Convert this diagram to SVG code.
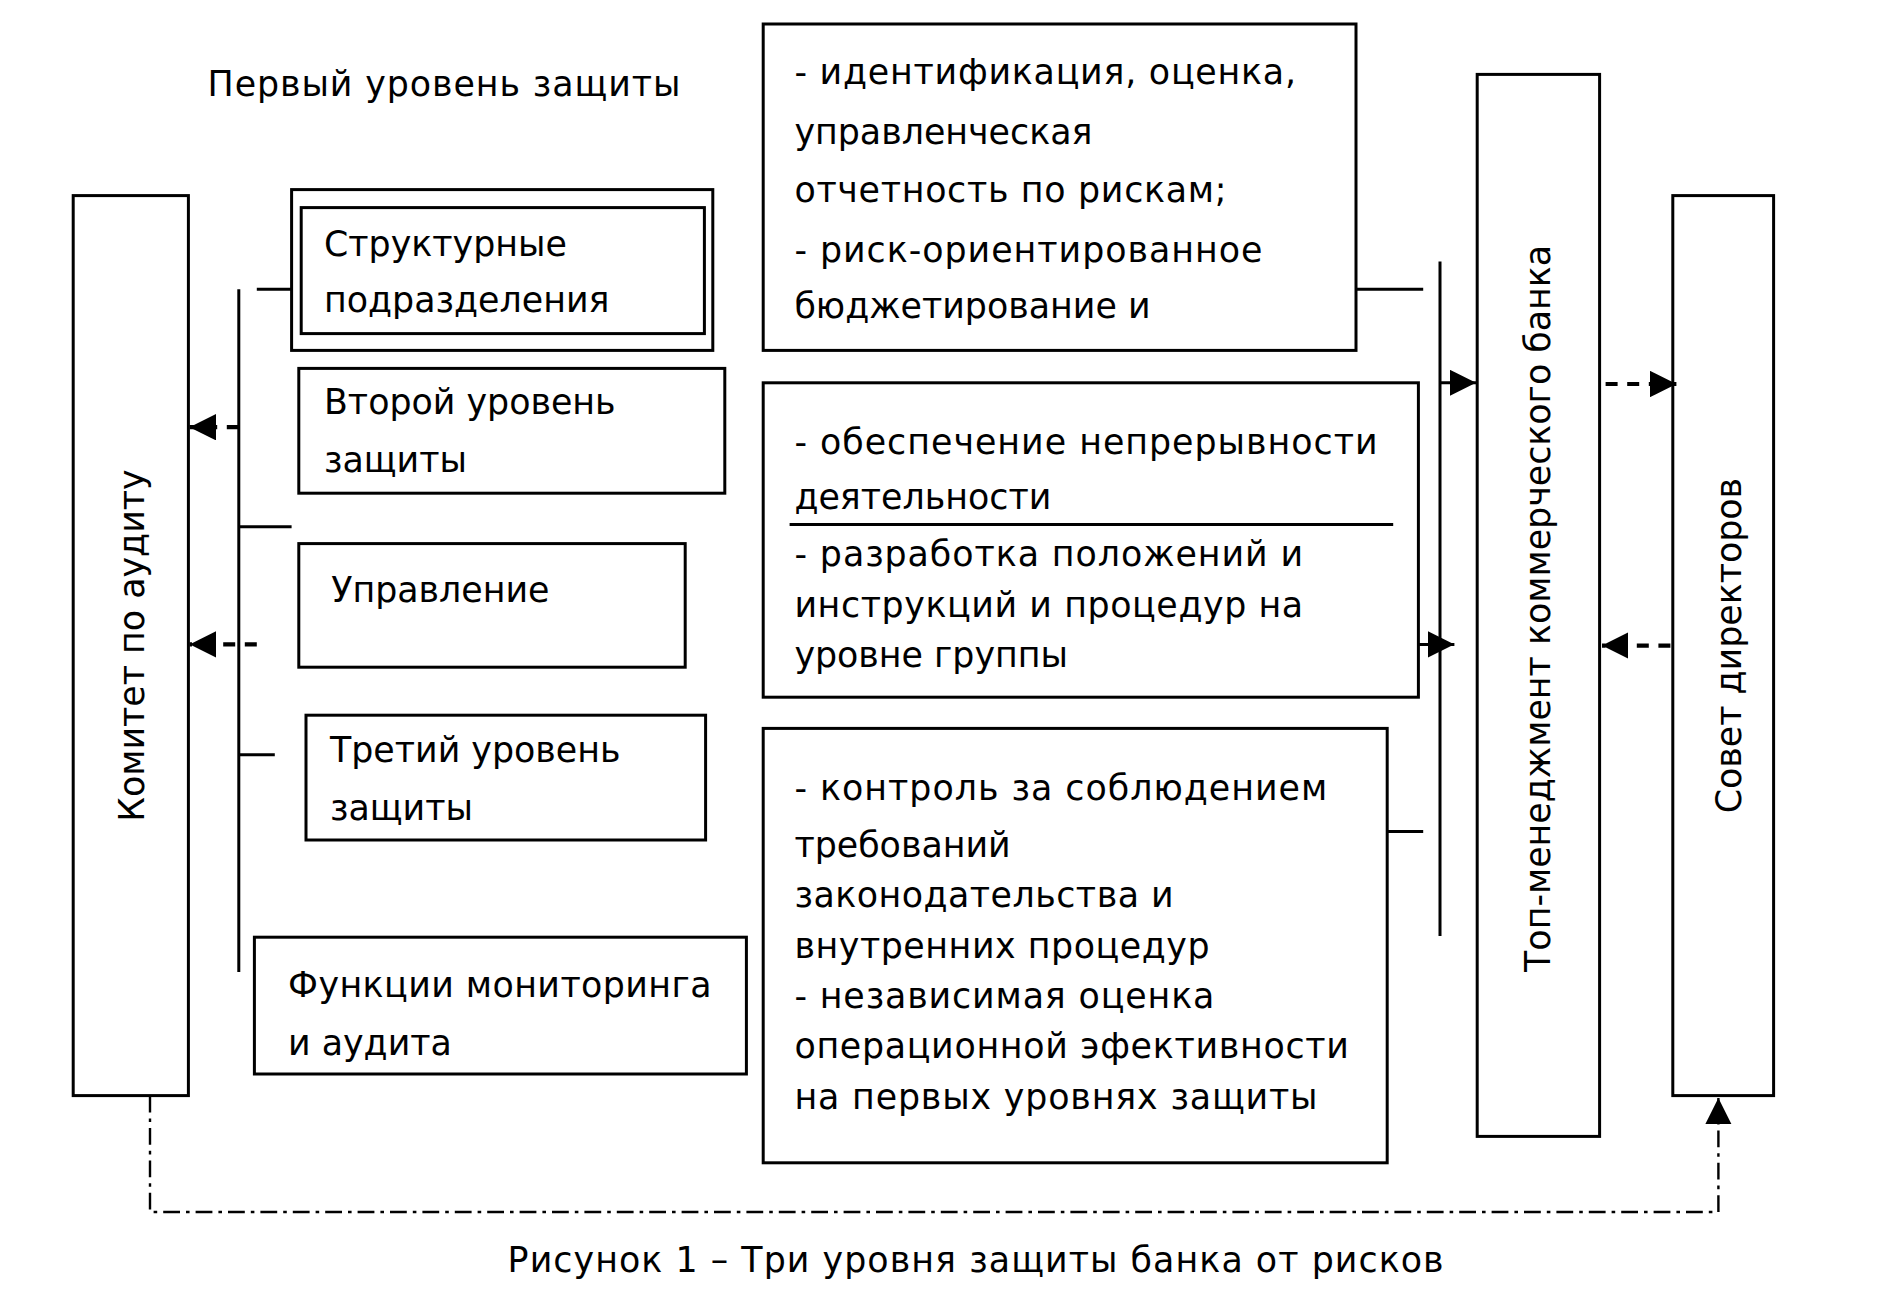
<svg xmlns="http://www.w3.org/2000/svg" width="1881" height="1304" viewBox="0 0 1881 1304">
<defs>
<style>
text{font-family:"DejaVu Sans","Liberation Sans",sans-serif;font-size:29px;fill:#000}
.b{fill:#fff;stroke:#000;stroke-width:2.5}
.l{stroke:#000;stroke-width:2.5;fill:none}
.d{stroke:#000;stroke-width:3.5;fill:none;stroke-dasharray:10 8}
</style>
<marker id="ah" viewBox="0 0 10 10" refX="10" refY="5" markerWidth="22" markerHeight="22" orient="auto" markerUnits="userSpaceOnUse"><path d="M0,0L10,5L0,10z"/></marker>
</defs>
<rect width="1881" height="1304" fill="#fff"/>
<g transform="scale(1.2)">
<text x="173" y="80" textLength="394">Первый уровень защиты</text>
<g id="komitet"><rect class="b" x="61" y="163" width="96" height="750"/><text transform="translate(120,538) rotate(-90)" text-anchor="middle">Комитет по аудиту</text></g>
<g id="struct"><rect class="b" x="243" y="158" width="351" height="134"/><rect class="b" x="251" y="173" width="336" height="105"/><text x="270" y="213">Структурные</text><text x="270" y="260">подразделения</text></g>
<g id="second"><rect class="b" x="249" y="307" width="355" height="104"/><text x="270" y="345">Второй уровень</text><text x="270" y="393">защиты</text></g>
<g id="upr"><rect class="b" x="249" y="453" width="322" height="103"/><text x="276" y="502">Управление</text></g>
<g id="third"><rect class="b" x="255" y="596" width="333" height="104"/><text x="275" y="635">Третий уровень</text><text x="275" y="683">защиты</text></g>
<g id="monit"><rect class="b" x="212" y="781" width="410" height="114"/><text x="240" y="831" textLength="353">Функции мониторинга</text><text x="240" y="879">и аудита</text></g>
<g id="box1"><rect class="b" x="636" y="20" width="494" height="272"/>
<text x="662" y="70" textLength="418">- идентификация, оценка,</text><text x="662" y="120">управленческая</text><text x="662" y="168" textLength="360">отчетность по рискам;</text><text x="662" y="218" textLength="390">- риск-ориентированное</text><text x="662" y="265">бюджетирование и</text></g>
<g id="box2"><rect class="b" x="636" y="319" width="546" height="262"/>
<text x="662" y="378" textLength="486">- обеспечение непрерывности</text><text x="662" y="424">деятельности</text><line class="l" x1="658" y1="437" x2="1161" y2="437"/>
<text x="662" y="472" textLength="424">- разработка положений и</text><text x="662" y="514" textLength="424">инструкций и процедур на</text><text x="662" y="556">уровне группы</text></g>
<g id="box3"><rect class="b" x="636" y="607" width="520" height="362"/>
<text x="662" y="667" textLength="444">- контроль за соблюдением</text><text x="662" y="714">требований</text><text x="662" y="756" textLength="316">законодательства и</text><text x="662" y="798" textLength="346">внутренних процедур</text><text x="662" y="840" textLength="350">- независимая оценка</text><text x="662" y="882" textLength="462">операционной эфективности</text><text x="662" y="924" textLength="436">на первых уровнях защиты</text></g>
<g id="top"><rect class="b" x="1231" y="62" width="102" height="885"/><text transform="translate(1292,507) rotate(-90)" text-anchor="middle">Топ-менеджмент коммерческого банка</text></g>
<g id="sovet"><rect class="b" x="1394" y="163" width="84" height="750"/><text transform="translate(1451,538) rotate(-90)" text-anchor="middle">Совет директоров</text></g>
<g id="connectors">
<line class="l" x1="199" y1="241" x2="199" y2="810"/>
<line class="l" x1="214" y1="241" x2="243" y2="241"/>
<line class="l" x1="199" y1="439" x2="243" y2="439"/>
<line class="l" x1="199" y1="629" x2="229" y2="629"/>
<line class="d" x1="199" y1="356" x2="158" y2="356" marker-end="url(#ah)"/>
<line class="d" x1="214" y1="537" x2="158" y2="537" marker-end="url(#ah)"/>
<line class="l" x1="1130" y1="241" x2="1186" y2="241"/>
<line class="l" x1="1156" y1="693" x2="1186" y2="693"/>
<line class="l" x1="1200" y1="218" x2="1200" y2="780"/>
<line class="l" stroke-width="4" x1="1200" y1="319" x2="1230" y2="319" marker-end="url(#ah)"/>
<line class="l" stroke-width="4" x1="1182" y1="537" x2="1212" y2="537" marker-end="url(#ah)"/>
<line class="d" x1="1338" y1="320" x2="1397" y2="320" marker-end="url(#ah)"/>
<line class="d" x1="1392" y1="538" x2="1335" y2="538" marker-end="url(#ah)"/>
<path d="M125,913V1010H1432V915" fill="none" stroke="#000" stroke-width="2" stroke-dasharray="14 5 3 5" marker-end="url(#ah)"/>
</g>
<text x="423" y="1060" textLength="780">Рисунок 1 – Три уровня защиты банка от рисков</text>
</g>
</svg>
